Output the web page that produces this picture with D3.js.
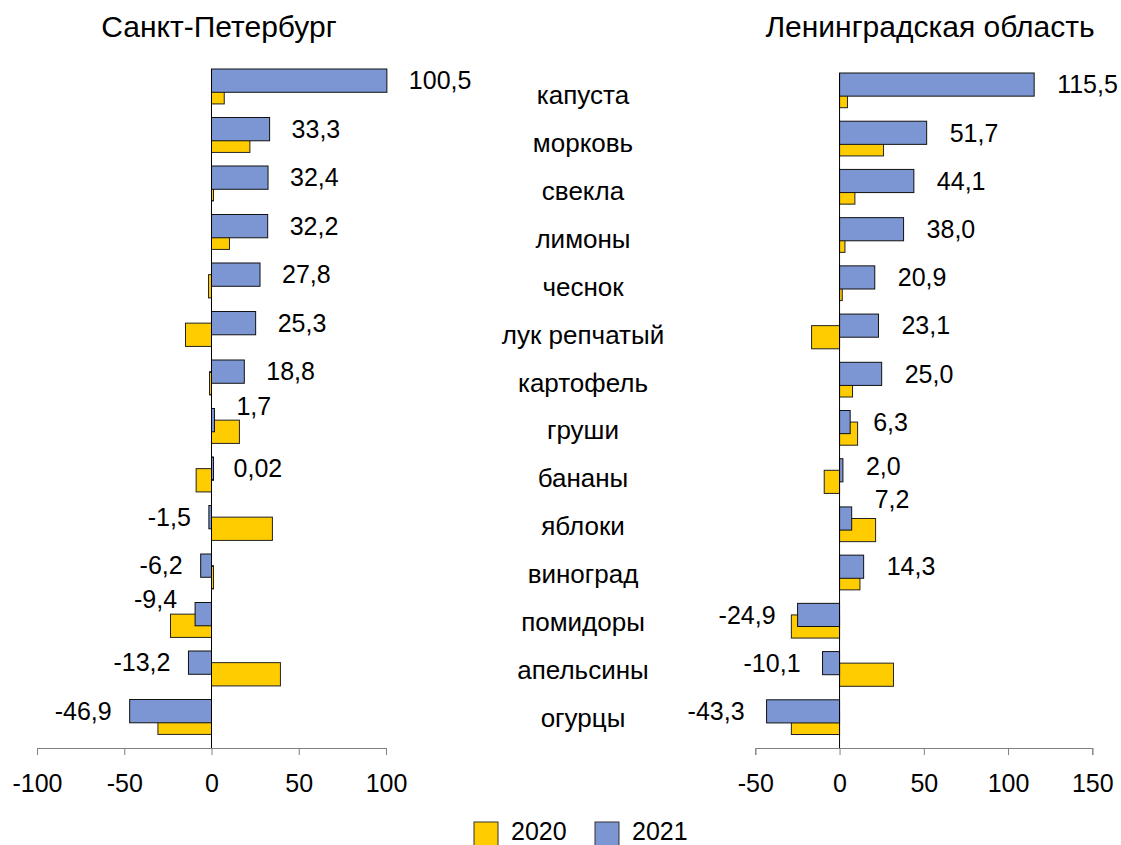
<!DOCTYPE html>
<html>
<head>
<meta charset="utf-8">
<script src="https://cdn.jsdelivr.net/npm/d3@7"></script>
<style>
  body { margin: 0; background: #fff; }
  text { font-family: "Liberation Sans", Arial, sans-serif; fill: #000; }
</style>
</head>
<body>
<div id="chart"></div>
<script>
// data
var categories = ["капуста", "морковь", "свекла", "лимоны", "чеснок", "лук репчатый", "картофель",
                  "груши", "бананы", "яблоки", "виноград", "помидоры", "апельсины", "огурцы"];
var spb2021 = [100.5, 33.3, 32.4, 32.2, 27.8, 25.3, 18.8, 1.7, 0.02, -1.5, -6.2, -9.4, -13.2, -46.9];
var spb2020 = [7.3, 22.0, 1.1, 10.3, -1.7, -14.9, -1.1, 16.0, -8.8, 34.9, 1.1, -23.5, 39.5, -30.7];
var lo2021 = [115.5, 51.7, 44.1, 38.0, 20.9, 23.1, 25.0, 6.3, 2.0, 7.2, 14.3, -24.9, -10.1, -43.3];
var lo2020 = [4.7, 26.1, 9.1, 3.2, 1.6, -16.6, 7.7, 10.7, -9.1, 21.4, 12.1, -28.6, 32.0, -28.6];
var spbTicks = [-100, -50, 0, 50, 100];
var loTicks = [-50, 0, 50, 100, 150];
var seriesNames = ["2020", "2021"];
var titles = ["Санкт-Петербург", "Ленинградская область"];

var colors = {"2020": "#FFCC00", "2021": "#7B96D2"};

var width = 1121, height = 845;
var svg = d3.select("#chart").append("svg")
  .attr("width", width)
  .attr("height", height);

// labels that were moved by hand in the original
var nudgeLeft = {"груши": -14, "помидоры": -15};
var nudgeRight = {"бананы": -4, "яблоки": -19};

function fmt(v) {
  var s = Math.abs(v) < 0.1 ? v.toFixed(2) : v.toFixed(1);
  return s.replace(".", ",");
}

// excel keeps tiny bars visible, so give them a couple of pixels
function barX(x, v) {
  var w = Math.max(2, Math.abs(x(v) - x(0)));
  return v < 0 ? x(0) - w : x(0);
}
function barW(x, v) {
  return Math.max(2, Math.abs(x(v) - x(0)));
}

function panel(opts) {
  var x = d3.scaleLinear().domain(opts.domain).range(opts.xRange);
  var y = d3.scaleBand().domain(categories).range(opts.yRange).padding(0);
  var bw = y.bandwidth();
  var barH = bw * 0.48;
  var g = svg.append("g");

  var rows = categories.map(function(c, i) {
    return {cat: c, v20: opts.v2020[i], v21: opts.v2021[i]};
  });

  // 2020 behind, shifted down half a bar
  g.selectAll("rect.y20").data(rows).enter().append("rect")
    .attr("x", function(d) { return barX(x, d.v20); })
    .attr("y", function(d) { return y(d.cat) + barH / 2; })
    .attr("width", function(d) { return barW(x, d.v20); })
    .attr("height", barH)
    .attr("fill", colors["2020"])
    .attr("stroke", "#222")
    .attr("stroke-width", 1);

  g.selectAll("rect.y21").data(rows).enter().append("rect")
    .attr("x", function(d) { return barX(x, d.v21); })
    .attr("y", function(d) { return y(d.cat); })
    .attr("width", function(d) { return barW(x, d.v21); })
    .attr("height", barH)
    .attr("fill", colors["2021"])
    .attr("stroke", "#111")
    .attr("stroke-width", 1);

  // value labels for 2021
  g.selectAll("text.val").data(rows).enter().append("text")
    .attr("x", function(d) {
      return d.v21 >= 0 ? x(d.v21) + opts.gapPos : x(d.v21) - opts.gapNeg;
    })
    .attr("y", function(d) { return y(d.cat) + barH / 2 + (opts.nudge[d.cat] || 0); })
    .attr("dy", "0.35em")
    .attr("text-anchor", function(d) { return d.v21 >= 0 ? "start" : "end"; })
    .style("font-size", "25px")
    .text(function(d) { return fmt(d.v21); });

  // vertical zero line
  g.append("line")
    .attr("x1", x(0)).attr("x2", x(0))
    .attr("y1", opts.yRange[0]).attr("y2", opts.axisY)
    .attr("stroke", "#000");

  // bottom axis
  var ax = g.append("g")
    .attr("transform", "translate(0," + opts.axisY + ")")
    .call(d3.axisBottom(x).tickValues(opts.ticks).tickSize(7).tickPadding(19)
      .tickFormat(function(d) { return String(d); }));
  ax.select(".domain").attr("stroke", "#808080");
  ax.selectAll(".tick line").attr("stroke", "#808080");
  ax.selectAll(".tick text")
    .style("font-size", "25px")
    .style("font-family", "Liberation Sans, Arial, sans-serif")
    .attr("fill", "#000");

  svg.append("text")
    .attr("x", opts.titleX).attr("y", 37)
    .attr("text-anchor", "middle")
    .style("font-size", "30px")
    .text(opts.title);
}

panel({
  domain: [-100, 100], xRange: [37, 386], yRange: [69, 748], axisY: 748,
  v2020: spb2020, v2021: spb2021, ticks: spbTicks, gapPos: 22, gapNeg: 18,
  nudge: nudgeLeft, title: titles[0], titleX: 219
});
panel({
  domain: [-50, 150], xRange: [755.3, 1092.3], yRange: [73, 748], axisY: 748,
  v2020: lo2020, v2021: lo2021, ticks: loTicks, gapPos: 23, gapNeg: 22,
  nudge: nudgeRight, title: titles[1], titleX: 930
});

// category names in the middle column
var yLab = d3.scalePoint().domain(categories).range([104, 727]);
svg.append("g").selectAll("text").data(categories).enter().append("text")
  .attr("x", 583)
  .attr("y", function(d) { return yLab(d); })
  .attr("text-anchor", "middle")
  .style("font-size", "26px")
  .text(function(d) { return d; });

// legend
var legX = d3.scalePoint().domain(seriesNames).range([474, 595]);
var leg = svg.append("g").selectAll("g").data(seriesNames).enter().append("g")
  .attr("transform", function(d) { return "translate(" + legX(d) + ",822)"; });
leg.append("rect")
  .attr("width", 24).attr("height", 24)
  .attr("fill", function(d) { return colors[d]; })
  .attr("stroke", "#333");
leg.append("text")
  .attr("x", 37).attr("y", 18)
  .style("font-size", "25px")
  .text(function(d) { return d; });
</script>
</body>
</html>
